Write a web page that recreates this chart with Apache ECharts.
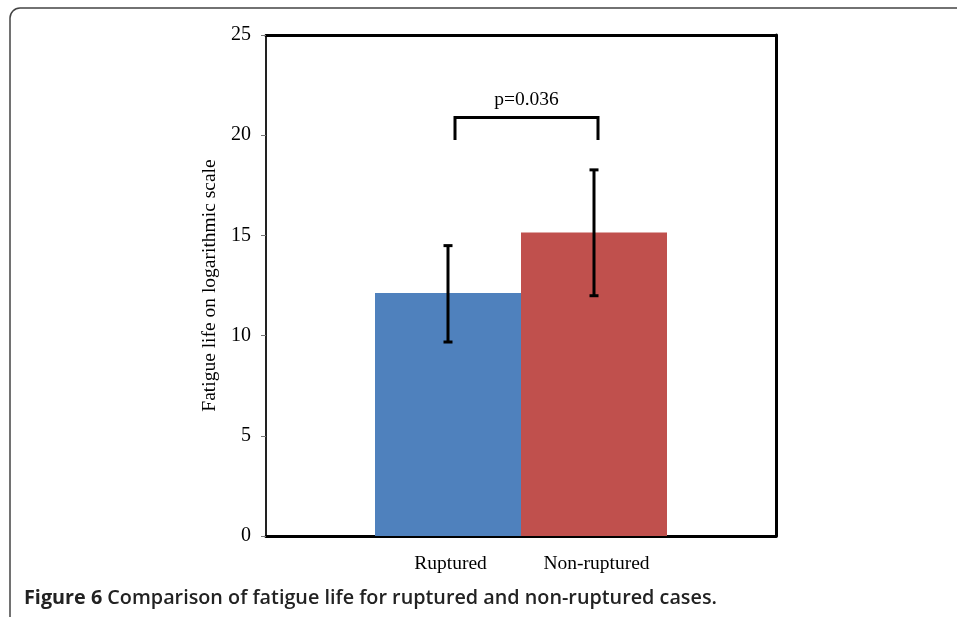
<!DOCTYPE html>
<html>
<head>
<meta charset="utf-8">
<script src="https://cdn.jsdelivr.net/npm/echarts@6/dist/echarts.min.js"></script>
<style>
html,body{margin:0;padding:0;background:#fff;}
#chart{width:957px;height:617px;}
</style>
</head>
<body>
<div id="chart"></div>
<script>
const categories = ['Ruptured', 'Non-ruptured'];
const means = [12.12, 15.14];
const errLow = [9.68, 11.99];
const errHigh = [14.49, 18.27];
const barColors = ['#4F81BD', '#C0504D'];
const yTicks = [0, 5, 10, 15, 20, 25];
const bracket = { from: 0, to: 1, top: 20.88, bottom: 19.76, label: 'p=0.036' };
const yTitle = 'Fatigue life on logarithmic scale';
const captionBold = 'Figure 6';
const captionText = ' Comparison of fatigue life for ruptured and non-ruptured cases.';

const serif = '"Liberation Serif", "Times New Roman", serif';
const chart = echarts.init(document.getElementById('chart'), null, { renderer: 'canvas' });

const frameLine = { show: true, onZero: false, lineStyle: { color: '#000', width: 3 } };

const option = {
  animation: false,
  backgroundColor: '#fff',
  grid: [
    { left: 266, right: 181, top: 35, bottom: 81 },
    { left: 375, right: 290, top: 35, bottom: 81 }
  ],
  xAxis: [
    { gridIndex: 0, type: 'value', min: 0, max: 1, position: 'bottom',
      axisLine: frameLine,
      axisTick: { show: false }, axisLabel: { show: false }, splitLine: { show: false } },
    { gridIndex: 0, type: 'value', min: 0, max: 1, position: 'top',
      axisLine: frameLine,
      axisTick: { show: false }, axisLabel: { show: false }, splitLine: { show: false } },
    { gridIndex: 1, type: 'category', data: categories,
      axisLine: { show: false }, axisTick: { show: false },
      axisLabel: { fontFamily: serif, fontSize: 19.5, color: '#000', margin: 18, padding: [0, 0, 0, 5] } }
  ],
  yAxis: [
    { gridIndex: 0, type: 'value', min: 0, max: 25, interval: 5, position: 'left',
      name: yTitle, nameLocation: 'middle', nameGap: 43,
      nameTextStyle: { fontFamily: serif, fontSize: 19.5, color: '#000' },
      axisLine: { show: true, onZero: false, lineStyle: { color: '#222', width: 2 } },
      axisTick: { show: true, length: 5, lineStyle: { color: '#777', width: 1 } },
      axisLabel: { fontFamily: serif, fontSize: 20, color: '#000', margin: 15,
        formatter: v => yTicks.includes(v) ? String(v) : '' },
      splitLine: { show: false } },
    { gridIndex: 0, type: 'value', min: 0, max: 25, position: 'right',
      axisLine: frameLine,
      axisTick: { show: false }, axisLabel: { show: false }, splitLine: { show: false } },
    { gridIndex: 1, type: 'value', min: 0, max: 25, show: false }
  ],
  graphic: [
    { type: 'rect', shape: { x: 10, y: 8, width: 1000, height: 620, r: 10 },
      style: { fill: 'none', stroke: '#444', lineWidth: 1.5 }, silent: true, z: -10 },
    { type: 'text', left: 24, top: 588,
      style: {
        rich: {
          b: { fontFamily: '"Open Sans", "Noto Sans", sans-serif', fontWeight: 700, fontSize: 19.8, fill: '#222' },
          n: { fontFamily: '"Open Sans", "Noto Sans", sans-serif', fontWeight: 600, fontSize: 19.8, fill: '#222' }
        },
        text: '{b|' + captionBold + '}{n|' + captionText + '}'
      } }
  ],
  series: [
    {
      type: 'bar', xAxisIndex: 2, yAxisIndex: 2, barWidth: '100%',
      data: means.map((v, i) => ({ value: v, itemStyle: { color: barColors[i] } })),
      z: 3
    },
    {
      type: 'custom', xAxisIndex: 2, yAxisIndex: 2, z: 5,
      data: categories.map((c, i) => [i, errLow[i], errHigh[i]]),
      renderItem: function (params, api) {
        const lo = api.coord([api.value(0), api.value(1)]);
        const hi = api.coord([api.value(0), api.value(2)]);
        const x = lo[0];
        const cap = 4.5;
        const st = { stroke: '#000', lineWidth: 3 };
        return { type: 'group', children: [
          { type: 'line', shape: { x1: x, y1: hi[1], x2: x, y2: lo[1] }, style: st },
          { type: 'line', shape: { x1: x - cap, y1: hi[1], x2: x + cap, y2: hi[1] }, style: st },
          { type: 'line', shape: { x1: x - cap, y1: lo[1], x2: x + cap, y2: lo[1] }, style: st }
        ] };
      }
    },
    {
      type: 'custom', xAxisIndex: 2, yAxisIndex: 2, z: 5,
      data: [[bracket.from, bracket.to, bracket.top, bracket.bottom]],
      renderItem: function (params, api) {
        const a = api.coord([api.value(0), api.value(2)]);
        const b = api.coord([api.value(1), api.value(2)]);
        const ab = api.coord([api.value(0), api.value(3)]);
        const x1 = a[0] + 7, x2 = b[0] + 4;
        const st = { stroke: '#000', lineWidth: 3, fill: 'none', lineJoin: 'miter' };
        return { type: 'group', children: [
          { type: 'polyline', shape: { points: [[x1, ab[1]], [x1, a[1]], [x2, a[1]], [x2, ab[1]]] }, style: st },
          { type: 'text', x: (x1 + x2) / 2, y: a[1] - 18,
            style: { text: bracket.label, fontFamily: serif, fontSize: 19.5, fill: '#000',
              align: 'center', verticalAlign: 'middle' } }
        ] };
      }
    }
  ]
};
chart.setOption(option);
</script>
</body>
</html>
